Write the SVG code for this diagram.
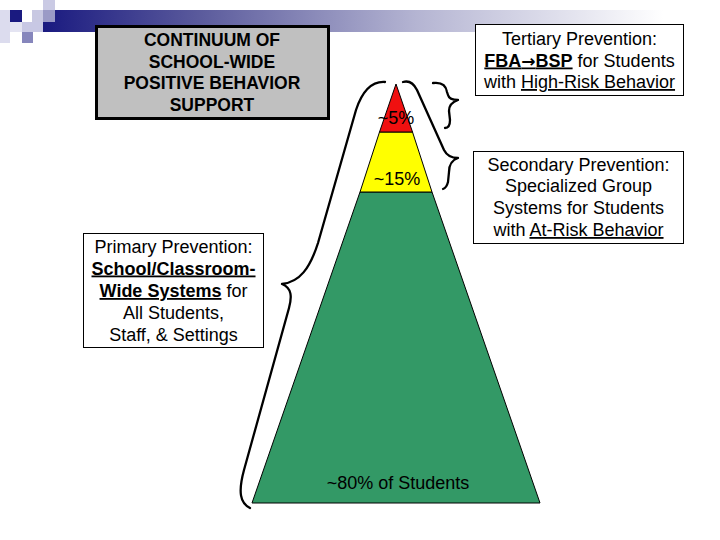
<svg xmlns="http://www.w3.org/2000/svg" width="720" height="540" viewBox="0 0 720 540">
  <defs>
    <linearGradient id="bar" x1="0" y1="0" x2="1" y2="0">
      <stop offset="0" stop-color="#1a1a80"/>
      <stop offset="0.25" stop-color="#5a5a9c"/>
      <stop offset="0.6" stop-color="#b4b4d2"/>
      <stop offset="1" stop-color="#ffffff"/>
    </linearGradient>
  </defs>
  <style>
    text { font-family: "Liberation Sans", Arial, sans-serif; font-size: 18px; fill: #000; text-anchor: middle; }
    .b { font-weight: bold; }
    .u { text-decoration: underline; }
    .arr { font-family: "DejaVu Sans", sans-serif; font-weight: bold; font-size: 17px; }
    .box { fill: #fff; stroke: #000; stroke-width: 1; }
    .tier { stroke: #000; stroke-width: 1; }
    .brace { fill: none; stroke: #000; stroke-width: 2.3; stroke-linecap: round; stroke-linejoin: round; }
  </style>
  <rect width="720" height="540" fill="#fff"/>

  <g id="decoration">
    <rect x="43" y="10" width="620" height="22" fill="url(#bar)"/>
    <rect x="0" y="10" width="10" height="33" fill="#dcdcee"/>
    <rect x="10" y="10" width="12" height="12" fill="#1a1a80"/>
    <rect x="32" y="10" width="11" height="12" fill="#c8c8e2"/>
    <rect x="43" y="0" width="12" height="10" fill="#cacae4"/>
    <rect x="43" y="10" width="12" height="12" fill="#9a9ac6"/>
    <rect x="10" y="22" width="12" height="10" fill="#e4e4f2"/>
    <rect x="22" y="22" width="21" height="10" fill="#c8c8e4"/>
    <rect x="22" y="32" width="11" height="11" fill="#8686bc"/>
  </g>

  <g id="title">
    <rect x="96.5" y="26.5" width="232" height="92" fill="#c0c0c0" stroke="#000" stroke-width="3"/>
    <text class="b" x="212" y="46" style="font-size:17.5px">CONTINUUM OF</text>
    <text class="b" x="212" y="67.5" style="font-size:17.5px">SCHOOL-WIDE</text>
    <text class="b" x="212" y="89" style="font-size:17.5px">POSITIVE BEHAVIOR</text>
    <text class="b" x="212" y="110.5" style="font-size:17.5px">SUPPORT</text>
  </g>

  <g id="tier-primary">
    <polygon class="tier" points="360,192 432,192 540,503 252,503" fill="#339966"/>
    <text x="398" y="489">~80% of Students</text>
  </g>
  <g id="tier-secondary">
    <polygon class="tier" points="379.5,132 412.5,132 432,192 360,192" fill="#ffff00"/>
    <text x="397" y="184.5">~15%</text>
  </g>
  <g id="tier-tertiary">
    <polygon class="tier" points="396,84 412.5,132 379.5,132" fill="#f01010"/>
    <text x="396" y="124">~5%</text>
  </g>

  <g id="connectors">
    <path class="brace" d="M 385 82 C 371 81 362 92 356 110 L 318 243 C 310 268 300 282 282 284 C 292 288 292 297 289 308 L 244 470 C 238 492 240 503 250 508"/>
    <path class="brace" d="M 403 82 C 410 80 414 84 417 90 L 444 150 C 447 156 452 158 458 158 C 452 160 449 164 449 172 L 448 182 C 447 186 446 188 443 189"/>
    <path class="brace" d="M 433 83 C 441 82 446 85 447 92 L 448 95 C 449 99 452 100 458 100 C 452 102 449 105 449 111 L 450 120 C 450 126 448 128 445 128"/>
  </g>

  <g id="box-tertiary">
    <rect class="box" x="475.5" y="24.5" width="208" height="71"/>
    <text x="579.5" y="44.5">Tertiary Prevention:</text>
    <text x="579.5" y="66.5"><tspan class="b u">FBA</tspan><tspan class="arr u">→</tspan><tspan class="b u">BSP</tspan> for Students</text>
    <text x="579.5" y="88">with <tspan class="u">High-Risk Behavior</tspan></text>
  </g>

  <g id="box-secondary">
    <rect class="box" x="473.5" y="151.5" width="210" height="92"/>
    <text x="578.5" y="170.5">Secondary Prevention:</text>
    <text x="578.5" y="192">Specialized Group</text>
    <text x="578.5" y="214">Systems for Students</text>
    <text x="578.5" y="236">with <tspan class="u">At-Risk Behavior</tspan></text>
  </g>

  <g id="box-primary">
    <rect class="box" x="83.5" y="233.5" width="180" height="114"/>
    <text x="173.5" y="252.5">Primary Prevention:</text>
    <text x="173.5" y="274.5" class="b u">School/Classroom-</text>
    <text x="173.5" y="297"><tspan class="b u">Wide Systems</tspan> for</text>
    <text x="173.5" y="319">All Students,</text>
    <text x="173.5" y="340.5">Staff, &amp; Settings</text>
  </g>
</svg>
